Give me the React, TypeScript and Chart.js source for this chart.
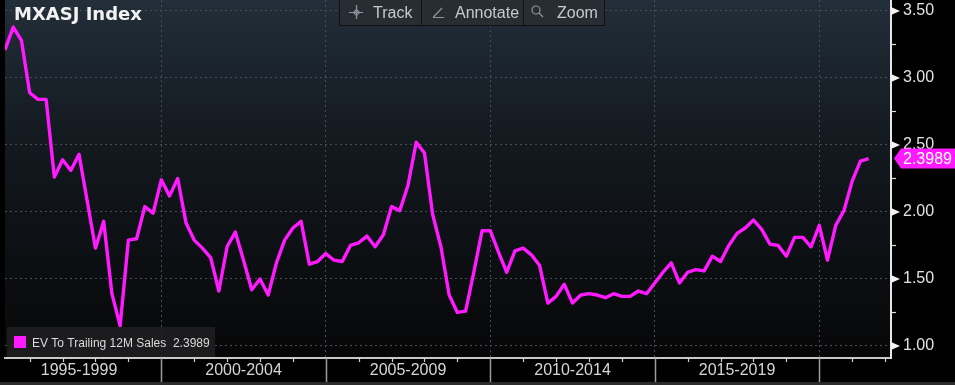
import React, { useEffect, useRef } from "react";
import { Chart, registerables } from "chart.js";

Chart.register(...registerables);

// ---- data ----
const TITLE = "MXASJ Index";
const SERIES_NAME = "EV To Trailing 12M Sales";
const FIRST_QUARTER = 1995.25; // first observation (fractional year)
const QUARTER_STEP = 0.25;

const evToSales = [
  3.21, 3.38, 3.28, 2.89, 2.84, 2.84, 2.26, 2.39, 2.31, 2.43,
  2.08, 1.73, 1.93, 1.39, 1.15, 1.79, 1.80, 2.04, 1.99, 2.24,
  2.12, 2.25, 1.92, 1.79, 1.73, 1.66, 1.41, 1.74, 1.85, 1.64,
  1.42, 1.50, 1.38, 1.62, 1.79, 1.88, 1.93, 1.61, 1.63, 1.69,
  1.64, 1.63, 1.75, 1.77, 1.82, 1.74, 1.83, 2.04, 2.01, 2.20,
  2.52, 2.44, 1.98, 1.74, 1.38, 1.25, 1.26, 1.55, 1.86, 1.86,
  1.70, 1.55, 1.71, 1.73, 1.68, 1.60, 1.32, 1.37, 1.46, 1.32,
  1.38, 1.39, 1.38, 1.36, 1.39, 1.37, 1.37, 1.41, 1.39, 1.47,
  1.55, 1.62, 1.47, 1.55, 1.57, 1.56, 1.67, 1.63, 1.75, 1.84,
  1.88, 1.94, 1.87, 1.76, 1.75, 1.67, 1.81, 1.81, 1.74, 1.90,
  1.64, 1.90, 2.01, 2.23, 2.38, 2.3989,
];

const periodStarts = [1995, 2000, 2005, 2010, 2015];
const periodLabels = ["1995-1999", "2000-2004", "2005-2009", "2010-2014", "2015-2019"];
const periodBounds = [2000, 2005, 2010, 2015, 2020];
const yTickValues = [1.0, 1.5, 2.0, 2.5, 3.0, 3.5];
const yTickLabels = ["1.00", "1.50", "2.00", "2.50", "3.00", "3.50"];
const yMinorValues = [1.25, 1.75, 2.25, 2.75, 3.25];
const toolbarButtons = ["Track", "Annotate", "Zoom"];

const X_MIN = 1995.25;
const X_MAX = 2022.18;
const Y_MIN = 0.91;
const Y_MAX = 3.582;

const LINE_COLOR = "#ff1aff";
const GRID_COLOR = "#474e55";

const near = (a: number, b: number) => Math.abs(a - b) < 1e-6;

const decorPlugin = {
  id: "decor",
  beforeDraw(chart: any) {
    const { ctx, chartArea: a, width, height } = chart;
    ctx.save();
    ctx.fillStyle = "#000000";
    ctx.fillRect(0, 0, width, height);
    const g = ctx.createLinearGradient(0, a.top, 0, a.bottom);
    g.addColorStop(0, "#222e39");
    g.addColorStop(0.4, "#13191f");
    g.addColorStop(1, "#070708");
    ctx.fillStyle = g;
    ctx.fillRect(a.left, a.top, a.right - a.left, a.bottom - a.top);
    ctx.fillStyle = "#2c2c2c";
    ctx.fillRect(0, height - 3, width, 3);
    ctx.restore();
  },
  afterDatasetsDraw(chart: any) {
    const { ctx } = chart;
    ctx.save();
    // legend box
    ctx.fillStyle = "rgba(32,32,34,0.85)";
    ctx.fillRect(7, 327, 208, 30);
    ctx.fillStyle = LINE_COLOR;
    ctx.fillRect(14, 336, 12, 12);
    ctx.fillStyle = "#dadada";
    ctx.font = "12px 'Liberation Sans', Arial, sans-serif";
    ctx.textBaseline = "alphabetic";
    ctx.textAlign = "left";
    const last = evToSales[evToSales.length - 1];
    ctx.fillText(SERIES_NAME + "  " + last.toFixed(4), 32, 347);
    ctx.restore();
  },
  afterDraw(chart: any) {
    const { ctx, chartArea: a, height, width } = chart;
    const xs = chart.scales.x;
    const ys = chart.scales.y;
    ctx.save();
    // x-axis year ticks and period separators
    for (let yr = Math.ceil(X_MIN); yr <= Math.floor(X_MAX); yr++) {
      const px = Math.round(xs.getPixelForValue(yr)) + 0.5;
      if (px < a.left || px > a.right) continue;
      ctx.beginPath();
      if (yr % 5 === 0) {
        ctx.strokeStyle = "#9c9c9c";
        ctx.lineWidth = 1.5;
        ctx.moveTo(px, a.bottom);
        ctx.lineTo(px, height - 3);
      } else {
        ctx.strokeStyle = "#d0d0d0";
        ctx.lineWidth = 1.2;
        ctx.moveTo(px, a.bottom);
        ctx.lineTo(px, a.bottom + 4);
      }
      ctx.stroke();
    }
    // y-axis minor ticks
    ctx.strokeStyle = "#e0e0e0";
    ctx.lineWidth = 1.2;
    yMinorValues.forEach((v) => {
      const py = Math.round(ys.getPixelForValue(v)) + 0.5;
      ctx.beginPath();
      ctx.moveTo(a.right, py);
      ctx.lineTo(a.right + 5, py);
      ctx.stroke();
    });
    // y-axis major markers (triangles)
    ctx.fillStyle = "#f2f2f2";
    yTickValues.forEach((v) => {
      const py = ys.getPixelForValue(v);
      ctx.beginPath();
      ctx.moveTo(a.right, py - 4);
      ctx.lineTo(a.right + 9, py);
      ctx.lineTo(a.right, py + 4);
      ctx.closePath();
      ctx.fill();
    });
    // last value tag
    const last = evToSales[evToSales.length - 1];
    const ty = ys.getPixelForValue(last);
    ctx.fillStyle = LINE_COLOR;
    ctx.beginPath();
    ctx.moveTo(a.right + 3, ty);
    ctx.lineTo(a.right + 10, ty - 10);
    ctx.lineTo(width, ty - 10);
    ctx.lineTo(width, ty + 10);
    ctx.lineTo(a.right + 10, ty + 10);
    ctx.closePath();
    ctx.fill();
    ctx.fillStyle = "#ffffff";
    ctx.font = "16px 'Liberation Sans', Arial, sans-serif";
    ctx.textBaseline = "middle";
    ctx.textAlign = "left";
    ctx.fillText(last.toFixed(4), a.right + 12, ty + 1);

    // title
    ctx.fillStyle = "#f2f2f2";
    ctx.font = "bold 18px 'DejaVu Sans', Verdana, sans-serif";
    ctx.textBaseline = "alphabetic";
    ctx.fillText(TITLE, 14, 20);

    // toolbar
    const bx = [340, 422, 524];
    const bw = [81, 101, 80];
    ctx.fillStyle = "#0f1215";
    ctx.fillRect(339, 0, 266, 26);
    bx.forEach((x, i) => {
      ctx.fillStyle = "#272d33";
      ctx.fillRect(x, 0, bw[i], 25);
    });
    ctx.fillStyle = "#c6cacf";
    ctx.font = "16px 'Liberation Sans', Arial, sans-serif";
    ctx.textBaseline = "alphabetic";
    const tx = [373, 455, 557];
    toolbarButtons.forEach((t, i) => ctx.fillText(t, tx[i], 18));
    // icons
    ctx.strokeStyle = "#8d949b";
    ctx.lineWidth = 1.2;
    ctx.beginPath();
    ctx.moveTo(349, 12.5); ctx.lineTo(363, 12.5);
    ctx.moveTo(356.5, 5); ctx.lineTo(356.5, 19);
    ctx.stroke();
    ctx.beginPath();
    ctx.moveTo(356.5, 9.5); ctx.lineTo(359.5, 12.5); ctx.lineTo(356.5, 15.5); ctx.lineTo(353.5, 12.5); ctx.closePath();
    ctx.stroke();
    ctx.beginPath();
    ctx.moveTo(433, 17.5); ctx.lineTo(444, 17.5);
    ctx.moveTo(433, 17.5); ctx.lineTo(442, 8);
    ctx.stroke();
    ctx.beginPath();
    ctx.arc(536, 10, 4, 0, Math.PI * 2);
    ctx.moveTo(539, 13); ctx.lineTo(543, 17);
    ctx.stroke();
    ctx.restore();
  },
};

export default function App() {
  const ref = useRef<HTMLCanvasElement | null>(null);
  useEffect(() => {
    if (!ref.current) return;
    const points = evToSales.map((v, i) => ({ x: FIRST_QUARTER + i * QUARTER_STEP, y: v }));
    const chart = new Chart(ref.current, {
      type: "line",
      data: {
        datasets: [
          {
            label: SERIES_NAME,
            data: points,
            borderColor: LINE_COLOR,
            borderWidth: 3.4,
            borderJoinStyle: "round",
            pointRadius: 0,
            tension: 0,
            fill: false,
          },
        ],
      },
      options: {
        responsive: false,
        animation: false,
        events: [],
        layout: { padding: { left: 5, right: 0, top: 0, bottom: 0 } },
        plugins: {
          legend: { display: false },
          title: { display: false },
          tooltip: { enabled: false },
        },
        scales: {
          x: {
            type: "linear",
            position: "bottom",
            min: X_MIN,
            max: X_MAX,
            afterBuildTicks: (s: any) => {
              const vals: number[] = [];
              periodStarts.forEach((p) => vals.push(p + 2.5));
              periodBounds.forEach((b) => vals.push(b));
              vals.sort((p, q) => p - q);
              s.ticks = vals.map((v) => ({ value: v }));
            },
            afterFit: (s: any) => {
              s.height = 27;
              s.paddingLeft = 0;
              s.paddingRight = 0;
            },
            border: { display: true, color: "#c8c8c8", width: 2, dash: [2, 3] },
            grid: {
              drawTicks: false,
              lineWidth: 1,
              color: (c: any) =>
                c.tick && periodBounds.some((b) => near(b, c.tick.value)) ? GRID_COLOR : "rgba(0,0,0,0)",
            },
            ticks: {
              autoSkip: false,
              maxRotation: 0,
              minRotation: 0,
              padding: 3,
              color: "#d6d6d6",
              font: { family: "'Liberation Sans', Arial, sans-serif", size: 16 },
              callback: (value: any) => {
                const idx = periodStarts.findIndex((s) => near(s + 2.5, Number(value)));
                return idx >= 0 ? periodLabels[idx] : "";
              },
            },
          },
          y: {
            type: "linear",
            position: "right",
            min: Y_MIN,
            max: Y_MAX,
            afterBuildTicks: (s: any) => {
              s.ticks = yTickValues.map((v) => ({ value: v }));
            },
            afterFit: (s: any) => {
              s.width = 64;
              s.paddingTop = 0;
              s.paddingBottom = 0;
            },
            border: { display: true, color: "#e6e6e6", width: 2, dash: [2, 3] },
            grid: {
              drawTicks: false,
              lineWidth: 1,
              color: GRID_COLOR,
            },
            ticks: {
              autoSkip: false,
              padding: 12,
              color: "#e2e2e2",
              font: { family: "'Liberation Sans', Arial, sans-serif", size: 16 },
              callback: (value: any) => {
                const idx = yTickValues.findIndex((v) => near(v, Number(value)));
                return idx >= 0 ? yTickLabels[idx] : "";
              },
            },
          },
        },
      },
      plugins: [decorPlugin],
    });
    return () => chart.destroy();
  }, []);
  return (
    <div style={{ position: "fixed", left: 0, top: 0, width: 955, height: 385, background: "#000" }}>
      <canvas ref={ref} width={955} height={385} style={{ display: "block", width: 955, height: 385 }} />
    </div>
  );
}
